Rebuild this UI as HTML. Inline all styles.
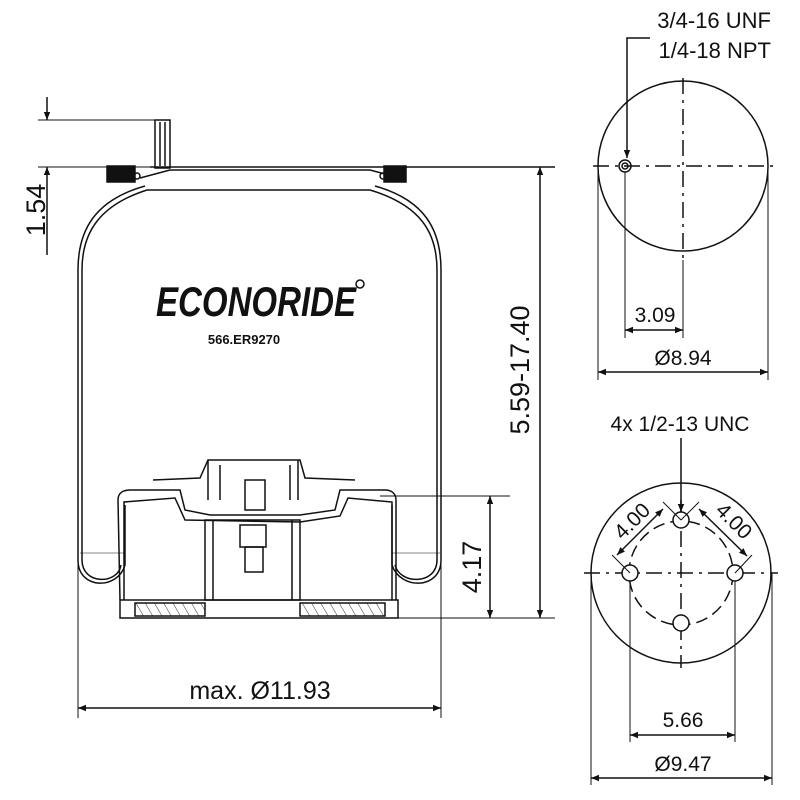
<!DOCTYPE html>
<html><head><meta charset="utf-8"><style>
html,body{margin:0;padding:0;background:#fff}
svg{display:block}
text{font-family:"Liberation Sans",sans-serif;fill:#111}
</style></head><body>
<svg width="800" height="800" viewBox="0 0 800 800" xmlns="http://www.w3.org/2000/svg">
<defs>
<marker id="a" viewBox="0 0 10 10" refX="10" refY="5" markerWidth="15" markerHeight="8" orient="auto-start-reverse" markerUnits="userSpaceOnUse"><path d="M0,1 L10,5 L0,9 z" fill="#111"/></marker>
<pattern id="h" width="8" height="8" patternUnits="userSpaceOnUse" patternTransform="rotate(-30)"><line x1="0" y1="0" x2="0" y2="8" stroke="#333" stroke-width="1"/></pattern>
</defs>
<g stroke="#111" fill="none" stroke-width="1.5">
<line x1="150" y1="167" x2="555" y2="167"/>
<path d="M140,178 L170,170 L370,170 L400,178"/>
<rect x="107" y="166" width="28" height="16" fill="#111"/>
<rect x="384" y="166" width="22" height="16" fill="#111"/>
<circle cx="137" cy="176" r="3"/><circle cx="383" cy="176" r="3"/>
<rect x="155" y="120" width="15" height="48"/>
<line x1="160" y1="122" x2="160" y2="166"/><line x1="165" y1="122" x2="165" y2="166"/>
<path d="M145,186 C95,200 78,230 78,270 L78,560 C78,590 118,590 125,565 L125,505"/>
<path d="M82,270 C82,232 100,205 147,190 L370,190 C420,205 437,232 437,270 L437,560 C437,585 400,585 395,565"/>
<path d="M375,186 C425,200 441,230 441,270 L441,560 C441,590 400,590 392,565 L392,505"/>
<path d="M82,270 L82,560 C82,585 118,585 121,565"/>
<line x1="80" y1="553" x2="125" y2="553" stroke-width="0.6"/>
<line x1="392" y1="553" x2="440" y2="553" stroke-width="0.6"/>
<path d="M120,600 L118,500 C118,493 123,490 130,490 L180,490 L185,510 L210,515 L300,515 L335,510 L340,490 L385,490 C392,490 396,494 396,500 L396,600"/>
<path d="M124,600 L124,502 L175,498 L185,520 L300,522 L340,516 L348,498 L392,502 L392,600"/>
<path d="M153,480 L200,478 L208,460 L300,460 L305,478 L355,480"/>
<path d="M208,460 L208,500 M298,460 L298,500 M220,465 L220,500 M290,465 L290,500"/>
<rect x="245" y="480" width="20" height="30"/>
<rect x="240" y="525" width="26" height="22"/>
<rect x="245" y="547" width="18" height="25"/>
<rect x="205" y="520" width="95" height="80"/>
<line x1="213" y1="520" x2="213" y2="600"/><line x1="292" y1="520" x2="292" y2="600"/>
<rect x="120" y="600" width="278" height="18"/>
<rect x="135" y="603" width="70" height="13" fill="url(#h)"/>
<rect x="300" y="603" width="85" height="13" fill="url(#h)"/>
<line x1="38" y1="120" x2="155" y2="120" stroke-width="1"/>
<line x1="38" y1="167" x2="150" y2="167" stroke-width="1"/>
<line x1="47" y1="97" x2="47" y2="120" marker-end="url(#a)"/>
<line x1="47" y1="255" x2="47" y2="167" marker-end="url(#a)"/>
<line x1="540" y1="167" x2="540" y2="618" marker-start="url(#a)" marker-end="url(#a)"/>
<line x1="398" y1="618" x2="555" y2="618" stroke-width="1"/>
<line x1="380" y1="496" x2="510" y2="496" stroke-width="1"/>
<line x1="490" y1="496" x2="490" y2="618" marker-start="url(#a)" marker-end="url(#a)"/>
<line x1="78" y1="560" x2="78" y2="718" stroke-width="1"/>
<line x1="441" y1="560" x2="441" y2="718" stroke-width="1"/>
<line x1="78" y1="708" x2="441" y2="708" marker-start="url(#a)" marker-end="url(#a)"/>
<circle cx="683" cy="166" r="85"/>
<line x1="593" y1="166" x2="778" y2="166" stroke-dasharray="16,6,3,6"/>
<line x1="683" y1="78" x2="683" y2="260" stroke-dasharray="16,6,3,6"/>
<circle cx="625" cy="166" r="6"/><circle cx="625" cy="166" r="3"/>
<path d="M650,38 L627,38 L627,158" marker-end="url(#a)"/>
<line x1="625" y1="172" x2="625" y2="338" stroke-width="1"/>
<line x1="683" y1="260" x2="683" y2="338" stroke-width="1"/>
<line x1="625" y1="330" x2="683" y2="330" marker-start="url(#a)" marker-end="url(#a)"/>
<line x1="598" y1="166" x2="598" y2="380" stroke-width="1"/>
<line x1="768" y1="166" x2="768" y2="380" stroke-width="1"/>
<line x1="598" y1="372" x2="768" y2="372" marker-start="url(#a)" marker-end="url(#a)"/>
<circle cx="681" cy="573" r="90"/>
<circle cx="681" cy="573" r="52" stroke-dasharray="12,6"/>
<line x1="584" y1="573" x2="778" y2="573" stroke-dasharray="16,6,3,6"/>
<line x1="681" y1="500" x2="681" y2="668" stroke-dasharray="16,6,3,6"/>
<circle cx="630" cy="573" r="8" fill="#fff"/><circle cx="735" cy="573" r="8" fill="#fff"/>
<circle cx="681" cy="520" r="8" fill="#fff"/><circle cx="681" cy="623" r="8" fill="#fff"/>
<line x1="681" y1="438" x2="681" y2="512" marker-end="url(#a)"/>
<line x1="663" y1="502" x2="681" y2="520" stroke-width="1"/><line x1="699" y1="502" x2="681" y2="520" stroke-width="1"/>
<line x1="612" y1="555" x2="630" y2="573" stroke-width="1"/><line x1="752" y1="555" x2="735" y2="573" stroke-width="1"/>
<line x1="617" y1="555" x2="663" y2="509" marker-start="url(#a)" marker-end="url(#a)"/>
<line x1="699" y1="509" x2="747" y2="556" marker-start="url(#a)" marker-end="url(#a)"/>
<line x1="630" y1="581" x2="630" y2="742" stroke-width="1"/>
<line x1="735" y1="581" x2="735" y2="742" stroke-width="1"/>
<line x1="630" y1="735" x2="735" y2="735" marker-start="url(#a)" marker-end="url(#a)"/>
<line x1="591" y1="573" x2="591" y2="785" stroke-width="1"/>
<line x1="772" y1="573" x2="772" y2="785" stroke-width="1"/>
<line x1="591" y1="778" x2="772" y2="778" marker-start="url(#a)" marker-end="url(#a)"/>
</g>
<text x="0" y="0" font-size="27" text-anchor="middle" transform="translate(45,210) rotate(-90)">1.54</text>
<text x="0" y="0" font-size="27" text-anchor="middle" transform="translate(529,370) rotate(-90)">5.59-17.40</text>
<text x="0" y="0" font-size="27" text-anchor="middle" transform="translate(481,567) rotate(-90)">4.17</text>
<text x="260" y="699" font-size="25" text-anchor="middle">max. Ø11.93</text>
<text x="256" y="316" font-size="42" font-weight="bold" font-style="italic" text-anchor="middle" textLength="200" lengthAdjust="spacingAndGlyphs">ECONORIDE</text>
<circle cx="360" cy="284" r="4" fill="none" stroke="#111" stroke-width="1.5"/>
<text x="244" y="344" font-size="13" font-weight="bold" text-anchor="middle">566.ER9270</text>
<text x="771" y="28" font-size="22" text-anchor="end">3/4-16 UNF</text>
<text x="771" y="58" font-size="22" text-anchor="end">1/4-18 NPT</text>
<text x="655" y="322" font-size="21" text-anchor="middle">3.09</text>
<text x="683" y="365" font-size="21" text-anchor="middle">Ø8.94</text>
<text x="680" y="431" font-size="21" text-anchor="middle">4x 1/2-13 UNC</text>
<text x="0" y="0" font-size="21" text-anchor="middle" transform="translate(637,526) rotate(-45)">4.00</text>
<text x="0" y="0" font-size="21" text-anchor="middle" transform="translate(729,526) rotate(45)">4.00</text>
<text x="683" y="727" font-size="21" text-anchor="middle">5.66</text>
<text x="683" y="771" font-size="21" text-anchor="middle">Ø9.47</text>
</svg>
</body></html>
